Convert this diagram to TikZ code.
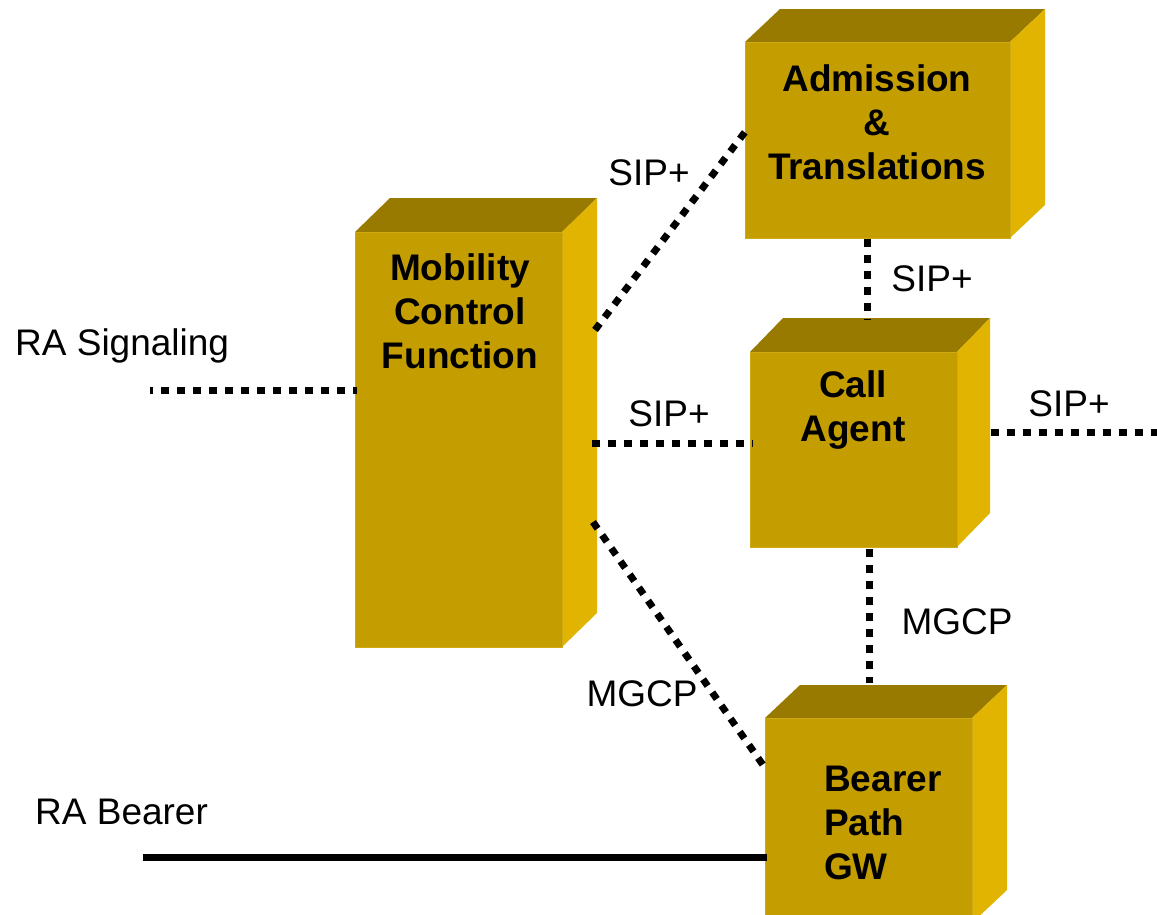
\documentclass[tikz,border=0pt]{standalone}
\usepackage{fontspec}
\setmainfont{Liberation Sans}
\usetikzlibrary{calc}
\definecolor{frontc}{RGB}{196,158,0}
\definecolor{topc}{RGB}{153,122,0}
\definecolor{sidec}{RGB}{224,180,0}
\definecolor{edgec}{RGB}{206,170,20}
\tikzset{
  frontbox/.style={fill=frontc, draw=edgec, line width=1pt, inner sep=0pt, anchor=north west},
  boxtext/.style={font=\fontsize{37}{44}\selectfont\bfseries, align=center, inner sep=0pt},
  lbl/.style={font=\fontsize{37}{44}\selectfont, inner sep=0pt},
  dotline/.style={line width=7pt, dash pattern=on 8pt off 8pt, black},
  solidline/.style={line width=7pt, black}
}
% name, x, y, w, h, depth-x, depth-y
\newcommand{\cubebox}[7]{%
  \fill[topc] (#2,#3) -- ++(#6,-#7) -- ++(#4,0) -- ++(-#6,#7) -- cycle;
  \fill[sidec] (#2+#4,#3) -- ++(#6,-#7) -- ++(0,#5) -- ++(-#6,#7) -- cycle;
  \node[frontbox, minimum width=#4pt, minimum height=#5pt] (#1) at (#2,#3) {};
}
\begin{document}
\begin{tikzpicture}[x=1pt,y=-1pt]
\useasboundingbox (0,0) rectangle (1157,914);
\begin{scope}
\clip (0,0) rectangle (1157,914);
\cubebox{mcf}{355}{232}{207}{415}{35}{34}
\cubebox{adm}{745}{42}{265}{196}{35}{33}
\cubebox{ca}{750}{352}{207}{195}{33}{34}
\cubebox{bgw}{765}{718}{207}{205}{35}{33}
\end{scope}

\node[boxtext] (mcft) at (460,311) {Mobility\\Control\\Function};
\node[boxtext] (admt) at (877,122) {Admission\\\&\\Translations};
\node[boxtext] (cat) at (853,410) {Call\\Agent};
\node[boxtext, align=left, anchor=west] (bgwt) at (824,823) {Bearer\\Path\\GW};

\node[lbl, anchor=west] (ras) at (15,346) {RA Signaling};
\node[lbl, anchor=west] (rab) at (35,812) {RA Bearer};
\node[lbl] (sip1) at (649,173) {SIP+};
\node[lbl] (sip2) at (932,279) {SIP+};
\node[lbl] (sip3) at (669,414) {SIP+};
\node[lbl] (sip4) at (1069,404) {SIP+};
\node[lbl] (mgcp1) at (957,622) {MGCP};
\node[lbl] (mgcp2) at (642,694) {MGCP};

\coordinate (rasend) at (150,390);
\coordinate (rabend) at (143,857);
\coordinate (caend) at (1157,432);

\draw[dotline, dash phase=5pt] (rasend) -- ([shift={(2,158)}]mcf.north west);
\draw[dotline] ([shift={(32,98)}]mcf.north east) -- ([shift={(0,90)}]adm.north west);
\draw[dotline] ([shift={(29,211)}]mcf.north east) -- ([shift={(3,91)}]ca.north west);
\draw[dotline] ([shift={(122,0)}]adm.south west) -- ([shift={(117,-32)}]ca.north west);
\draw[dotline] ([shift={(33,80)}]ca.north east) -- (caend);
\draw[dotline] ([shift={(119,1)}]ca.south west) -- ([shift={(104,-35)}]bgw.north west);
\draw[dotline] ([shift={(30,290)}]mcf.north east) -- ([shift={(-2,47)}]bgw.north west);
\draw[solidline] (rabend) -- ([shift={(2,139)}]bgw.north west);
\end{tikzpicture}
\end{document}
